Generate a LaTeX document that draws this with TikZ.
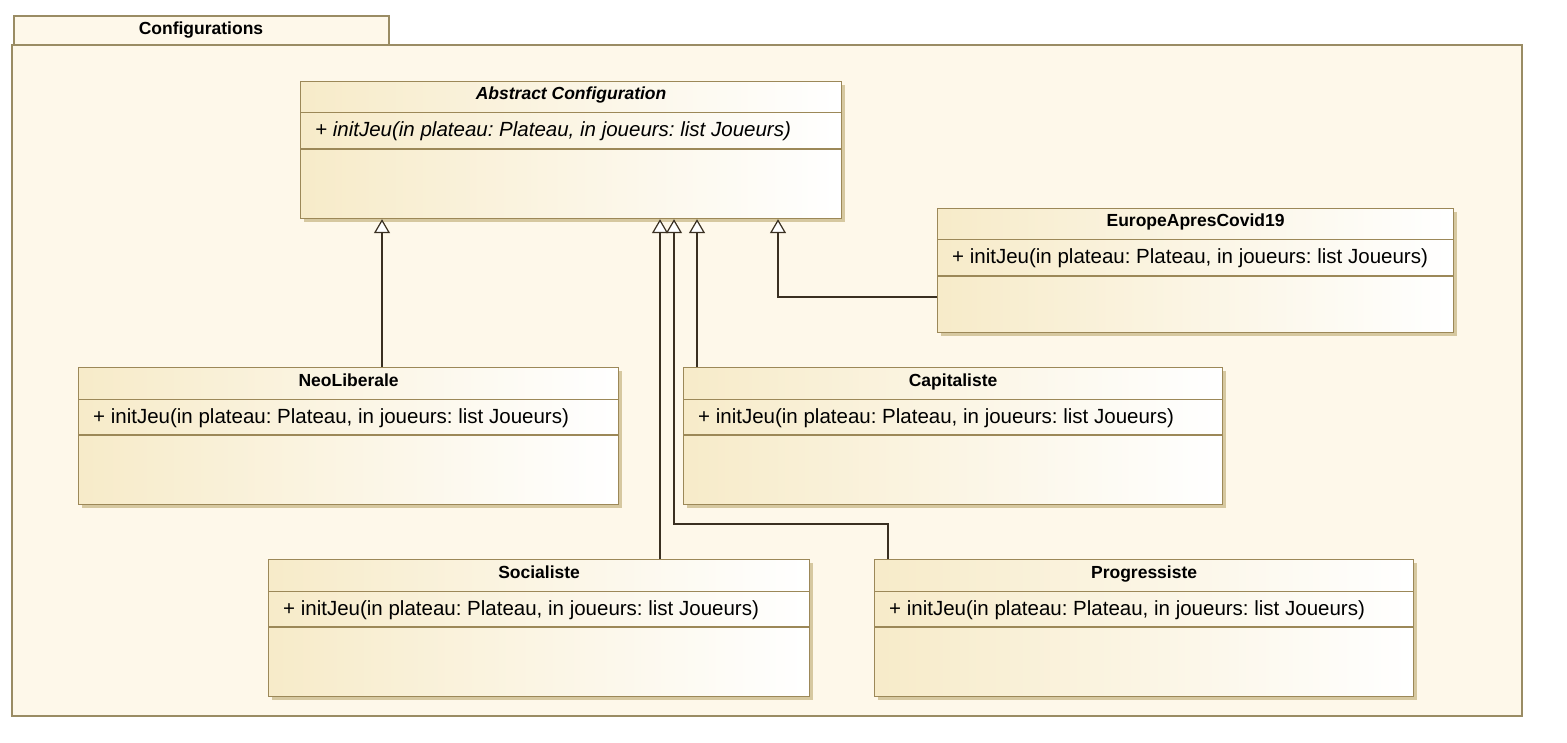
\documentclass[tikz,border=0pt]{standalone}
\usepackage{fontspec}
\setmainfont{Liberation Sans}
\usetikzlibrary{arrows.meta,shadows}
\frenchspacing

\definecolor{pkgfill}{HTML}{FEF8EA}
\definecolor{pkgline}{HTML}{9A8C64}
\definecolor{classleft}{HTML}{F7EBC9}
\definecolor{classline}{HTML}{9C8858}
\definecolor{shadowcol}{HTML}{D6C8A0}
\definecolor{linkcol}{HTML}{3A3022}

\tikzset{
  class box/.style={draw=classline, line width=1.2pt, left color=classleft, right color=white,
    anchor=north west, inner sep=0pt,
    drop shadow={shadow xshift=3pt, shadow yshift=-3pt, fill=shadowcol, opacity=1}},
  class title/.style={font=\fontsize{17.5}{20}\selectfont\bfseries, inner sep=0pt},
  class op/.style={font=\fontsize{20.5}{24}\selectfont, anchor=base west, inner sep=0pt},
  inherit/.style={linkcol, line width=1.4pt,
    -{Triangle[fill=white, width=16pt, length=14pt, line width=1.2pt]}},
}

\begin{document}
\begin{tikzpicture}[x=1pt, y=-1pt]

      \fill[white] (0,0) rectangle (1567,743);
      \useasboundingbox (0,0) rectangle (1567,743);

      % package
      \draw[pkgline, line width=2pt, fill=pkgfill] (12,45) rectangle (1522,716);
      \draw[pkgline, line width=1.5pt, fill=pkgfill] (14,16) rectangle (389,45);
      \node [class title, anchor=base] (pkg-name) at (201,35) {Configurations};

      % classes
      \foreach \n/\t/\f/\x/\y/\w/\h in {
          abstract/{\itshape Abstract Configuration}/\itshape/300/81/541/137,
          europe/EuropeApresCovid19/\relax/937/208/516/124,
          neo/NeoLiberale/\relax/78/367/540/137,
          capit/Capitaliste/\relax/683/367/539/137,
          social/Socialiste/\relax/268/559/541/137,
          progr/Progressiste/\relax/874/559/539/137}
      {
      \node [class box, minimum width=\w, minimum height=\h] (\n) at (\x,\y) {};
      \node [class title, anchor=base] (\n-title) at ([yshift=-19pt]\n.north) {\t};
      \draw [classline, line width=1pt] ([yshift=-32pt]\n.north west) -- ([yshift=-32pt]\n.north east);
      \node [class op] (\n-op) at ([xshift=15pt, yshift=-56pt]\n.north west)
        {\f + initJeu(in plateau: Plateau, in joueurs: list Joueurs)};
      \draw [classline, line width=1.3pt] ([yshift=-68pt]\n.north west) -- ([yshift=-68pt]\n.north east);
      }

      % generalisations
      \draw [inherit] (382,0 |- neo.north) -- (382,0 |- abstract.south);
      \draw [inherit] (660,0 |- social.north) -- (660,0 |- abstract.south);
      \draw [inherit] (888,0 |- progr.north) -- ++(0,-35) -| (674,0 |- abstract.south);
      \draw [inherit] (697,0 |- capit.north) -- (697,0 |- abstract.south);
      \draw [inherit] (europe.west |- 0,297) -| (778,0 |- abstract.south);

\end{tikzpicture}
\end{document}
